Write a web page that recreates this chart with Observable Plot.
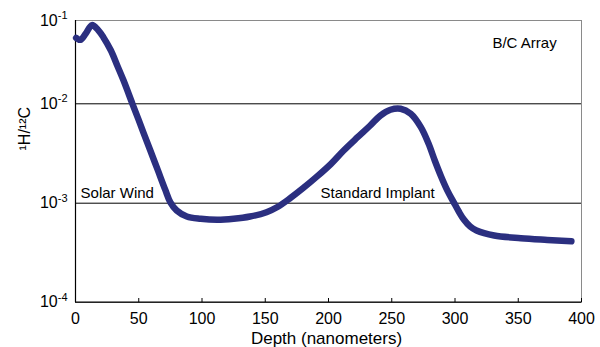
<!DOCTYPE html>
<html>
<head>
<meta charset="utf-8">
<script src="https://cdn.jsdelivr.net/npm/d3@7"></script>
<script src="https://cdn.jsdelivr.net/npm/@observablehq/plot@0.6"></script>
<style>
  html, body { margin: 0; padding: 0; background: #fff; }
  #chart svg { display: block; }
</style>
</head>
<body>
<div id="chart"></div>
<script>
// Depth (nm) and 1H/12C ratio
const depth = [0.5, 4, 8, 13, 18, 22, 28, 33, 38, 45, 50, 54, 59, 65, 71, 75, 80, 88, 99, 112, 125, 138, 151, 160, 170, 180, 191, 202, 212, 223, 233, 241, 249, 257, 265, 273, 279, 284, 289, 294, 299, 303, 307, 312, 317, 331, 352, 373, 392];
const ratio = [0.0619, 0.0586, 0.0692, 0.0880, 0.0765, 0.0631, 0.0436, 0.0288, 0.0190, 0.0100, 0.00684, 0.00502, 0.00343, 0.00216, 0.00136, 0.00102, 0.000843, 0.000733, 0.000695, 0.000679, 0.000695, 0.000733, 0.000811, 0.00092, 0.00113, 0.00142, 0.00186, 0.00249, 0.00339, 0.00461, 0.00605, 0.00762, 0.00871, 0.00891, 0.00793, 0.00582, 0.0040, 0.00269, 0.00186, 0.00134, 0.00102, 0.000824, 0.000684, 0.000581, 0.00053, 0.000472, 0.000443, 0.000426, 0.000413];

const xTicks = [0, 50, 100, 150, 200, 250, 300, 350, 400];
const yTicks = [1e-4, 1e-3, 1e-2, 1e-1];
const gridValues = [1e-3, 1e-2];

const labelTexts = ["B/C Array", "Solar Wind", "Standard Implant"];
const labelDepth = [329.6, 4.0, 193.7];
const labelRatio = [0.0537, 0.00126, 0.00127];

const xLabel = "Depth (nanometers)";
const yLabel = "\u00B9H/\u00B9\u00B2C";

const series = depth.map((d, i) => ({depth: d, ratio: ratio[i]}));
const labels = labelTexts.map((t, i) => ({text: t, depth: labelDepth[i], ratio: labelRatio[i]}));

const plot = Plot.plot({
  width: 600,
  height: 347,
  marginLeft: 75,
  marginRight: 19,
  marginTop: 20,
  marginBottom: 45,
  style: {fontFamily: "'Liberation Sans', Arial, sans-serif", background: "#fff", color: "#000"},
  x: {domain: [0, 400]},
  y: {type: "log", domain: [1e-4, 1e-3, 1e-2, 1e-1], range: [301.7, 202.7, 103.3, 20]},
  marks: [
    Plot.frame({stroke: "#8a8a8a"}),
    Plot.ruleY(gridValues, {stroke: "#000", strokeWidth: 1}),
    Plot.ruleX([0], {stroke: "#000", strokeWidth: 1.2}),
    Plot.ruleY([1e-4], {stroke: "#000", strokeWidth: 1.2}),
    // inward tick marks
    Plot.axisX({ticks: xTicks, tickSize: 4, dy: -4, fill: "none", stroke: "#000", label: null}),
    // tick labels
    Plot.axisX({ticks: xTicks, tickSize: 0, tickPadding: 10, stroke: "none", fontSize: 16, label: null}),
    Plot.axisY({ticks: yTicks, tickSize: 0, tickPadding: 8, fontSize: 16, label: null,
      tickFormat: d => String(Math.round(Math.log10(d)))}),
    Plot.line(series, {x: "depth", y: "ratio", stroke: "#2b2f80", strokeWidth: 6.5, curve: "catmull-rom", strokeLinecap: "round", strokeLinejoin: "round"}),
    Plot.text(labels, {x: "depth", y: "ratio", text: "text", textAnchor: "start", lineAnchor: "middle", fontSize: 15, fill: "#000"}),
    Plot.text([xLabel], {frameAnchor: "bottom", dx: -2, dy: 36, lineAnchor: "middle", fontSize: 17, fill: "#000"}),
    Plot.text([yLabel], {frameAnchor: "left", dx: -51, dy: -11, rotate: -90, lineAnchor: "middle", fontSize: 16, fill: "#000"})
  ]
});

// Render tick labels as 10 with superscript exponent
d3.select(plot).selectAll("g[aria-label='y-axis tick label'] text").each(function() {
  const exp = this.textContent.replace("\u2212", "-");
  const t = d3.select(this);
  t.text("");
  t.append("tspan").text("10");
  t.append("tspan").attr("dy", "-6.5").attr("font-size", "11px").text(exp);
});

document.getElementById("chart").appendChild(plot);
</script>
</body>
</html>
